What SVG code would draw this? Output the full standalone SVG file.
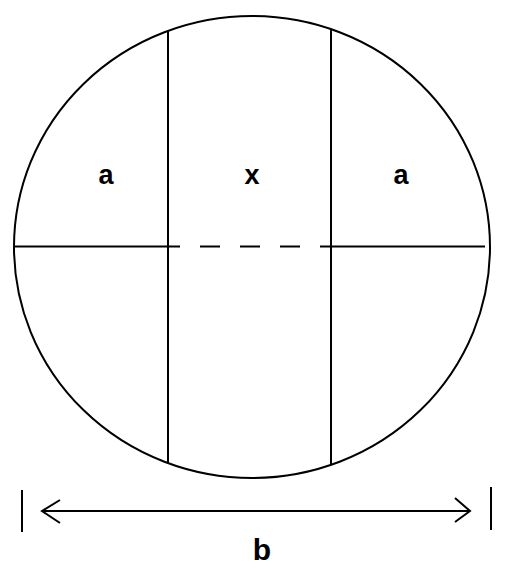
<svg xmlns="http://www.w3.org/2000/svg" width="511" height="569" viewBox="0 0 511 569">
<style>
.ln{stroke:#000;stroke-width:2;fill:none}
.lbl{font-family:"Liberation Sans",Arial,sans-serif;font-weight:bold;fill:#000;text-anchor:middle}
</style>
<rect width="511" height="569" fill="#fff"/>
<g id="circle">
<ellipse class="ln" cx="252" cy="247" rx="238" ry="231"/>
</g>
<g id="connectors">
<line class="ln" x1="168" y1="31" x2="168" y2="463"/>
<line class="ln" x1="331" y1="29" x2="331" y2="465"/>
<line class="ln" x1="14" y1="246.5" x2="168" y2="246.5"/>
<line class="ln" x1="168" y1="246.5" x2="331" y2="246.5" stroke-dasharray="20 20" stroke-dashoffset="8"/>
<line class="ln" x1="331" y1="246.5" x2="485" y2="246.5"/>
<line class="ln" x1="22" y1="490" x2="22" y2="532"/>
<line class="ln" x1="491" y1="487" x2="491" y2="530"/>
<line class="ln" x1="42" y1="511" x2="470" y2="511"/>
<polyline class="ln" points="60,500 42,511 60,523"/>
<polyline class="ln" points="455,498 470,511 455,522"/>
</g>
<g id="label-a-left"><text class="lbl" x="106" y="184" font-size="27">a</text></g>
<g id="label-x"><text class="lbl" x="252" y="184" font-size="27" font-weight="normal">x</text></g>
<g id="label-a-right"><text class="lbl" x="401" y="184" font-size="27">a</text></g>
<g id="label-b"><text class="lbl" x="262" y="560" font-size="30">b</text></g>
</svg>
